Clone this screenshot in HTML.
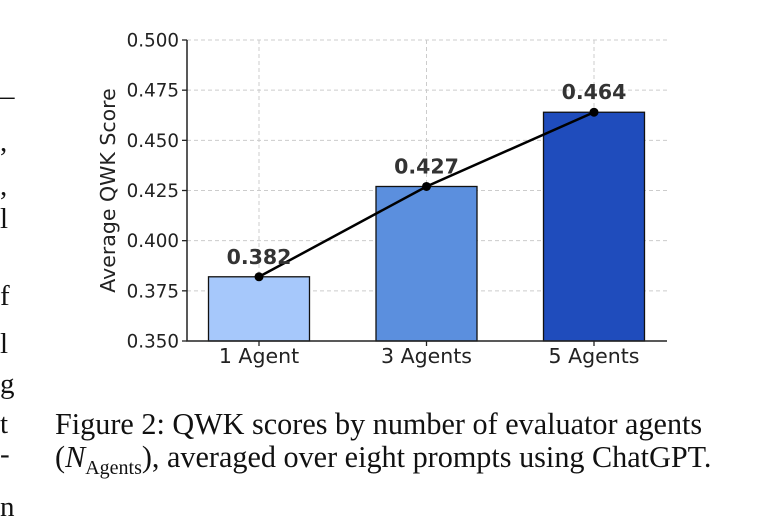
<!DOCTYPE html>
<html><head><meta charset="utf-8"><style>
body{margin:0;background:#fff;width:769px;height:509px;overflow:hidden;position:relative;font-family:"Liberation Serif",serif}
.m{position:absolute;left:0;font-size:29px;color:#111;line-height:1}
.cap{position:absolute;left:55px;font-size:30.2px;color:#111;white-space:nowrap;line-height:1}
</style></head><body>
<div class="m" style="top:82px">–</div>
<div class="m" style="top:128px">,</div>
<div class="m" style="top:172px">,</div>
<div class="m" style="top:205px">l</div>
<div class="m" style="top:282px">f</div>
<div class="m" style="top:330px">l</div>
<div class="m" style="top:370px">g</div>
<div class="m" style="top:410px">t</div>
<div class="m" style="top:440px">-</div>
<div class="m" style="top:493px">n</div>
<svg id="c" width="769" height="509" style="position:absolute;left:0;top:0"></svg>
<div class="cap" style="top:409px">Figure 2: QWK scores by number of evaluator agents</div>
<div class="cap" style="top:442px">(<i>N</i><sub style="font-size:20px">Agents</sub>), averaged over eight prompts using ChatGPT.</div>
<script>
const categories=["1 Agent","3 Agents","5 Agents"];
const values=[0.382,0.427,0.464];
const labels=["0.382","0.427","0.464"];
const colors=["#a6c8fb","#5b8fde","#1f4cbc"];
const yTicks=[0.350,0.375,0.400,0.425,0.450,0.475,0.500];
const NS="http://www.w3.org/2000/svg";
const svg=document.getElementById('c');
const L=187,R=667,T=40,B=341,yMin=0.35,yMax=0.5;
const y=v=>B-(v-yMin)/(yMax-yMin)*(B-T);
const step=167.5, x0=259;
const x=i=>x0+i*step;
const bw=101;
function mk(t,a){const e=document.createElementNS(NS,t);for(const k in a)e.setAttribute(k,a[k]);svg.appendChild(e);return e;}
const font='"DejaVu Sans",sans-serif';
yTicks.forEach(v=>{
 const g=mk('line',{x1:L,x2:R,y1:y(v),y2:y(v),stroke:'#ccc','stroke-dasharray':'4,3','stroke-width':1});
 
 
 const t=mk('line',{x1:L-5,x2:L,y1:y(v),y2:y(v),stroke:'#222','stroke-width':1.3});
 
 
 const lb=mk('text',{x:L-8,y:y(v)+6.5,'text-anchor':'end','font-size':18.3,fill:'#222','font-family':font});
 lb.textContent=v.toFixed(3);
 
 
});
categories.forEach((c,i)=>{
 const g=mk('line',{x1:x(i),x2:x(i),y1:T,y2:B,stroke:'#ccc','stroke-dasharray':'4,3','stroke-width':1});
 
 
});
categories.forEach((c,i)=>{
 const r=mk('rect',{x:x(i)-bw/2,y:y(values[i]),width:bw,height:B-y(values[i]),fill:colors[i],stroke:'#111','stroke-width':1.3});
 
 
 const t=mk('line',{x1:x(i),x2:x(i),y1:B,y2:B+5,stroke:'#222','stroke-width':1.3});
 
 
 const lb=mk('text',{x:x(i),y:B+22,'text-anchor':'middle','font-size':20.5,fill:'#222','font-family':font});
 lb.textContent=c;
 
 
});
const pl=mk('polyline',{points:values.map((v,i)=>x(i)+','+y(v)).join(' '),fill:'none',stroke:'#000','stroke-width':2.5});


values.forEach((v,i)=>{
 const p=mk('circle',{cx:x(i),cy:y(v),r:4.5,fill:'#000'});
 
 
 const t=mk('text',{x:x(i),y:y(v)-13,'text-anchor':'middle','font-size':20.5,'font-weight':'bold',fill:'#333','font-family':font});
 t.textContent=labels[i];
 
 
});
const ax=mk('path',{d:`M${L},${T} V${B} H${R}`,fill:'none',stroke:'#222','stroke-width':1.5});


const yt=mk('text',{x:0,y:0,transform:`translate(115,${(T+B)/2}) rotate(-90)`,'text-anchor':'middle','font-size':20.5,fill:'#222','font-family':font});
yt.textContent='Average QWK Score';


</script>
</body></html>
